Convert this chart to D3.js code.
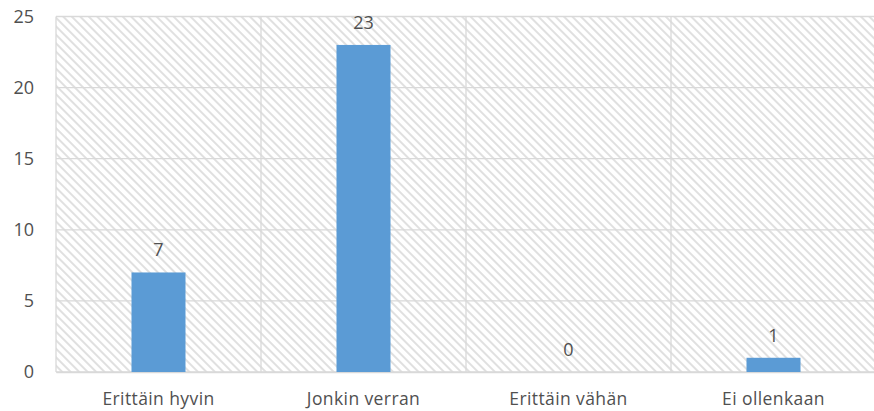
<!DOCTYPE html>
<html><head><meta charset="utf-8">
<script src="https://cdn.jsdelivr.net/npm/d3@7"></script>
<style>body{margin:0;background:#fff}svg{display:block}text{font-family:"Open Sans","Noto Sans",sans-serif;fill:#505050}</style>
</head><body><svg id="c" width="874" height="411"></svg>
<script>
const categories = ["Erittäin hyvin", "Jonkin verran", "Erittäin vähän", "Ei ollenkaan"];
const values = [7, 23, 0, 1];
const yTicks = [0, 5, 10, 15, 20, 25];

const svg = d3.select("#c");
const m = {left: 56, top: 16.5, right: 876, bottom: 372};
const x = d3.scaleBand().domain(categories).range([m.left, m.right]).paddingInner(0).paddingOuter(0);
const y = d3.scaleLinear().domain([0, 25]).range([m.bottom, m.top]);

const defs = svg.append("defs");
const pat = defs.append("pattern").attr("id","hatch").attr("patternUnits","userSpaceOnUse")
  .attr("width",6).attr("height",6).attr("patternTransform","rotate(-45)");
pat.append("rect").attr("width",6).attr("height",6).attr("fill","#fff");
pat.append("line").attr("x1",3).attr("y1",-1).attr("x2",3).attr("y2",7)
  .attr("stroke","#d9d9d9").attr("stroke-width",1.6);

svg.append("rect").attr("x",m.left).attr("y",m.top).attr("width",m.right-m.left).attr("height",m.bottom-m.top)
  .attr("fill","url(#hatch)");

svg.append("g").selectAll("line").data(yTicks).join("line")
  .attr("x1",m.left).attr("x2",m.right).attr("y1",d=>y(d)).attr("y2",d=>y(d))
  .attr("stroke","#d9d9d9").attr("stroke-width",1.3);
svg.append("g").selectAll("line").data(categories).join("line")
  .attr("x1",d=>x(d)).attr("x2",d=>x(d)).attr("y1",m.top).attr("y2",m.bottom)
  .attr("stroke","#d9d9d9").attr("stroke-width",1.3);

const ya = svg.append("g").attr("transform",`translate(${m.left},0)`)
  .call(d3.axisLeft(y).tickValues(yTicks).tickSize(0).tickPadding(22));
ya.select(".domain").remove();
ya.selectAll("text").attr("font-size",18).style("fill","#505050").attr("font-family","'Open Sans',sans-serif");

const xa = svg.append("g").attr("transform",`translate(0,${m.bottom})`)
  .call(d3.axisBottom(x).tickSize(0).tickPadding(0));
xa.select(".domain").attr("stroke","#d9d9d9").attr("stroke-width",1.3);
xa.selectAll("text").attr("dy",null).attr("y",33).attr("font-size",17.5).attr("letter-spacing",0.4)
  .style("fill","#505050").attr("font-family","'Open Sans',sans-serif");

const bw = 54;
svg.append("g").selectAll("rect").data(values).join("rect")
  .attr("x",(d,i)=>x(categories[i])+x.bandwidth()/2-bw/2).attr("width",bw)
  .attr("y",d=>y(d)).attr("height",d=>y(0)-y(d)).attr("fill","#5b9bd5");

svg.append("g").selectAll("text").data(values).join("text")
  .attr("x",(d,i)=>x(categories[i])+x.bandwidth()/2).attr("y",d=>y(d)-16)
  .attr("text-anchor","middle").attr("font-size",18).text(d=>d);
</script></body></html>
